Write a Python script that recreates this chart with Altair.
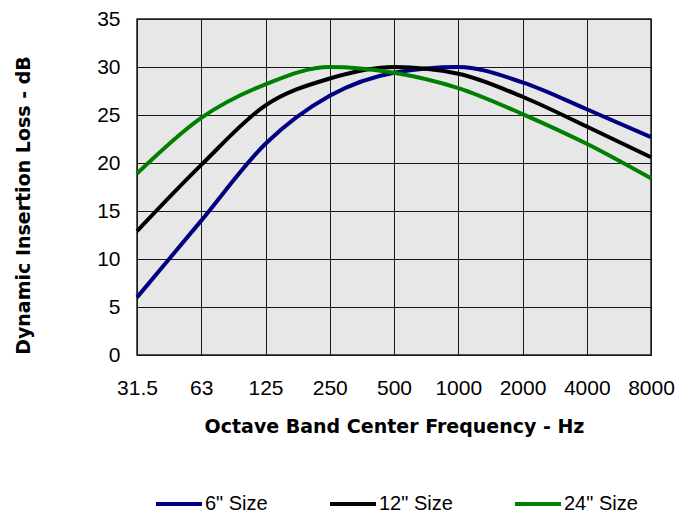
import altair as alt
import pandas as pd

freqs = ["31.5", "63", "125", "250", "500", "1000", "2000", "4000", "8000"]
series_names = ['6" Size', '12" Size', '24" Size']
s6 = [6.0, 14.0, 22.0, 27.0, 29.4, 30.0, 28.4, 25.6, 22.7]
s12 = [12.9, 19.8, 26.0, 28.8, 30.0, 29.3, 26.9, 23.8, 20.6]
s24 = [18.9, 24.7, 28.2, 30.0, 29.4, 27.8, 25.1, 22.0, 18.4]
colors = ["#000080", "#000000", "#008000"]
y_ticks = [0, 5, 10, 15, 20, 25, 30, 35]

rows = []
for name, vals in zip(series_names, [s6, s12, s24]):
    for f, v in zip(freqs, vals):
        rows.append({"freq": f, "loss": v, "size": name})
df = pd.DataFrame(rows)

FONT = "Liberation Sans"
TFONT = "DejaVu Sans"

chart = alt.Chart(df).mark_line(interpolate="monotone", strokeWidth=4).encode(
    x=alt.X("freq:N", sort=freqs, scale=alt.Scale(padding=0),
            axis=alt.Axis(title="Octave Band Center Frequency - Hz", labelAngle=0,
                          labelPadding=22, titleY=71, titleBaseline="middle")),
    y=alt.Y("loss:Q", scale=alt.Scale(domain=[0, 35], nice=False),
            axis=alt.Axis(title="Dynamic Insertion Loss - dB", values=y_ticks,
                          labelPadding=17, titleX=-114, titleY=186,
                          titleBaseline="middle", titleAngle=-90)),
    color=alt.Color("size:N", scale=alt.Scale(domain=series_names, range=colors),
                    legend=alt.Legend(title=None, orient="none", direction="horizontal",
                                      legendX=17, legendY=460, padding=0,
                                      columnPadding=54, labelOffset=1,
                                      symbolType="stroke", symbolSize=2116,
                                      symbolStrokeWidth=4, labelFont=FONT,
                                      labelFontSize=20, labelColor="black")),
    detail="size:N",
).properties(
    width=514, height=336,
    autosize=alt.AutoSizeParams(type="none"),
    padding={"left": 129, "top": 11, "right": 26, "bottom": 158},
).configure_view(
    fill="#e7e7e7", stroke="#222222", strokeWidth=1.5
).configure_axis(
    labelFont=FONT, labelFontSize=21, labelColor="black",
    titleFont=TFONT, titleFontSize=19, titleFontWeight="bold", titleColor="black",
    ticks=False, tickSize=0, domain=False,
    grid=True, gridColor="#1a1a1a", gridWidth=1, gridOpacity=1,
)

chart.save("out.html", embed_options={"renderer": "svg", "actions": False})
